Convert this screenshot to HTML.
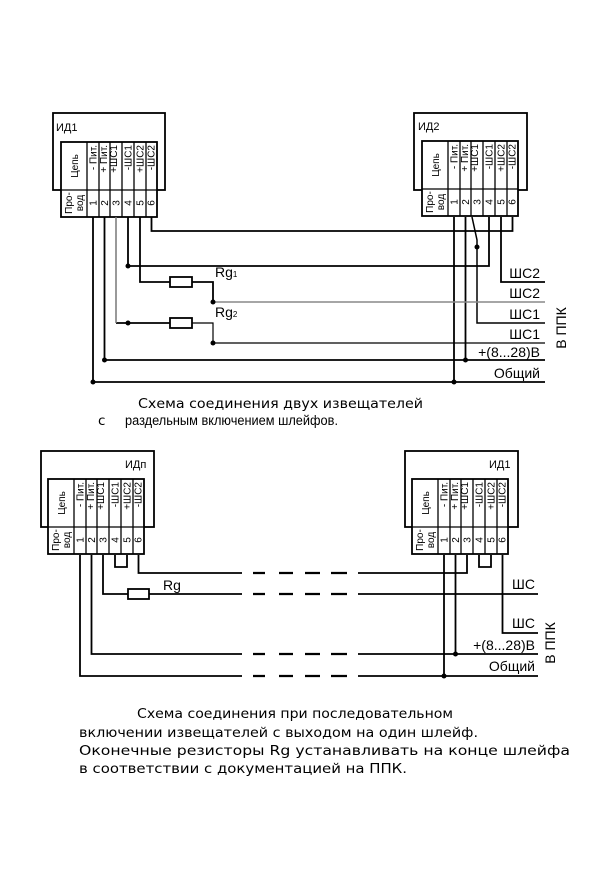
<!DOCTYPE html>
<html><head><meta charset="utf-8"><style>
html,body{margin:0;padding:0;background:#fff}
svg{display:block}
text{font-family:"Liberation Sans","DejaVu Sans",sans-serif;fill:#000}
.c{font-size:10px}
.l{font-size:14px}
.cap{font-size:13.5px;font-family:"DejaVu Sans","Liberation Sans",sans-serif}
</style></head><body>
<svg width="600" height="888" viewBox="0 0 600 888" xmlns="http://www.w3.org/2000/svg">
<g fill="none" stroke="#000" stroke-width="1.8">
<rect x="53" y="113" width="112" height="77"/>
<rect x="414" y="113" width="113" height="77"/>
<rect x="41" y="451" width="113" height="76"/>
<rect x="405" y="451" width="113" height="76"/>
</g>

<g id="m1" transform="translate(61,142)">
<rect x="0" y="0" width="96" height="75" fill="#fff" stroke="#000" stroke-width="1.8"/>
<g stroke="#000" stroke-width="1.3">
<line x1="0" y1="48" x2="96" y2="48"/>
<line x1="26" y1="0" x2="26" y2="75"/><line x1="38" y1="0" x2="38" y2="75"/><line x1="49" y1="0" x2="49" y2="75"/><line x1="61" y1="0" x2="61" y2="75"/><line x1="73" y1="0" x2="73" y2="75"/><line x1="85" y1="0" x2="85" y2="75"/>
</g>
<g class="c">
<text transform="translate(17,24) rotate(-90)" text-anchor="middle">Цепь</text>
<text transform="translate(35.5,3) rotate(-90)" text-anchor="end">- Пит.</text>
<text transform="translate(46,3) rotate(-90)" text-anchor="end">+ Пит.</text>
<text transform="translate(56,3) rotate(-90)" text-anchor="end">+ШС1</text>
<text transform="translate(70.5,3) rotate(-90)" text-anchor="end">-ШС1</text>
<text transform="translate(82.5,3) rotate(-90)" text-anchor="end">+ШС2</text>
<text transform="translate(93.5,3) rotate(-90)" text-anchor="end">-ШС2</text>
<text transform="translate(11,61) rotate(-90)" text-anchor="middle">Про-</text>
<text transform="translate(22,61) rotate(-90)" text-anchor="middle">вод</text>
<text transform="translate(35.5,61) rotate(-90)" text-anchor="middle">1</text>
<text transform="translate(47,61) rotate(-90)" text-anchor="middle">2</text>
<text transform="translate(58.5,61) rotate(-90)" text-anchor="middle">3</text>
<text transform="translate(70.5,61) rotate(-90)" text-anchor="middle">4</text>
<text transform="translate(82.5,61) rotate(-90)" text-anchor="middle">5</text>
<text transform="translate(93.5,61) rotate(-90)" text-anchor="middle">6</text>
</g>
</g>
<use href="#m1" transform="translate(361,-1)"/>
<use href="#m1" transform="translate(-13,337)"/>
<use href="#m1" transform="translate(351,337)"/>

<text x="56" y="131" style="font-size:11px">ИД1</text>
<text x="418" y="130" style="font-size:11px">ИД2</text>
<text x="125" y="468" style="font-size:11px">ИДп</text>
<text x="489" y="468" style="font-size:11px">ИД1</text>

<g fill="none" stroke="#000" stroke-width="1.8">
<polyline points="151.5,217 151.5,231 512.5,231 512.5,217"/>
<polyline points="128,217 128,266 489,266 489,217"/>
<polyline points="140,217 140,282 170,282"/>
<rect x="170" y="277" width="22" height="10"/>
<polyline points="192,282 213,282 213,302"/>
<polyline points="170,323 116,323"/>
<rect x="170" y="318" width="22" height="10"/>
<polyline points="192,323 213,323 213,343 545,343" stroke-width="1.2"/>
<polyline points="104.5,217 104.5,360 545,360"/>
<polyline points="93,217 93,382 545,382"/>
<line x1="454" y1="217" x2="454" y2="382"/>
<line x1="465.5" y1="217" x2="465.5" y2="360"/>
<polyline points="472,217 477,240 477,323 545,323" stroke-width="1.5"/>
<polyline points="501,217 501,282 545,282"/>
</g>
<polyline points="116,217 116,323" fill="none" stroke="#777" stroke-width="1.5"/>
<line x1="213" y1="302" x2="545" y2="302" stroke="#888" stroke-width="1.4"/>
<g fill="#000">
<circle cx="128" cy="266" r="2.5"/><circle cx="213" cy="302" r="2.5"/><circle cx="128" cy="323" r="2.5"/><circle cx="213" cy="343" r="2.5"/>
<circle cx="104.5" cy="360" r="2.5"/><circle cx="93" cy="382" r="2.5"/><circle cx="477" cy="247" r="2.5"/>
<circle cx="465.5" cy="360" r="2.5"/><circle cx="454" cy="382" r="2.5"/>
</g>
<text x="215" y="277" class="l">Rg<tspan font-size="8">1</tspan></text>
<text x="215" y="317" class="l">Rg<tspan font-size="8">2</tspan></text>
<g class="l" text-anchor="end">
<text x="540" y="278">ШС2</text>
<text x="540" y="298">ШС2</text>
<text x="540" y="319">ШС1</text>
<text x="540" y="339">ШС1</text>
<text x="540" y="357">+(8...28)В</text>
<text x="540" y="378">Общий</text>
</g>
<text class="l" transform="translate(566,328) rotate(-90)" text-anchor="middle">В  ППК</text>

<text x="138" y="408" class="cap" textLength="285" lengthAdjust="spacingAndGlyphs">Схема  соединения  двух  извещателей</text>
<text x="98" y="425" class="cap">с</text>
<text x="125" y="425" style="font-size:13.5px" textLength="213" lengthAdjust="spacingAndGlyphs">раздельным  включением  шлейфов.</text>

<g fill="none" stroke="#000" stroke-width="1.8">
<polyline points="80,555 80,676 242,676"/>
<polyline points="91.5,555 91.5,654 242,654"/>
<polyline points="103,555 103,594 128,594"/>
<rect x="128" y="589" width="21" height="10"/>
<polyline points="149,594 242,594"/>
<polyline points="115,555 115,567 127,567 127,555"/>
<polyline points="138.5,555 138.5,573 242,573"/>
<polyline points="358,676 538,676"/>
<polyline points="358,654 538,654"/>
<polyline points="358,594 538,594"/>
<polyline points="358,573 467,573 467,555"/>
<line x1="444" y1="555" x2="444" y2="676"/>
<line x1="455.5" y1="555" x2="455.5" y2="654"/>
<polyline points="479,555 479,567 491,567 491,555"/>
<polyline points="502.5,555 502.5,633 538,633"/>
<path d="M253 573H265M279 573H293M305 573H320M331 573H347 M253 594H265M279 594H293M305 594H320M331 594H347 M253 654H265M279 654H293M305 654H320M331 654H347 M253 676H265M279 676H293M305 676H320M331 676H347" stroke-width="2.2"/>
</g>
<g fill="#000"><circle cx="455.5" cy="654" r="2.5"/><circle cx="444" cy="676" r="2.5"/></g>
<text x="163" y="590" class="l">Rg</text>
<g class="l" text-anchor="end">
<text x="535" y="589">ШС</text>
<text x="535" y="628">ШС</text>
<text x="535" y="650">+(8...28)В</text>
<text x="535" y="671">Общий</text>
</g>
<text class="l" transform="translate(555,643) rotate(-90)" text-anchor="middle">В  ППК</text>

<text x="137" y="718" class="cap" textLength="316" lengthAdjust="spacingAndGlyphs">Схема  соединения  при  последовательном</text>
<text x="79" y="737" class="cap" textLength="399" lengthAdjust="spacingAndGlyphs">включении  извещателей с выходом  на  один  шлейф.</text>
<text x="79" y="755" class="cap" textLength="491" lengthAdjust="spacingAndGlyphs">Оконечные  резисторы  Rg  устанавливать  на  конце  шлейфа</text>
<text x="79" y="773" class="cap" textLength="328" lengthAdjust="spacingAndGlyphs">в  соответствии  с  документацией  на  ППК.</text>
</svg>
</body></html>
